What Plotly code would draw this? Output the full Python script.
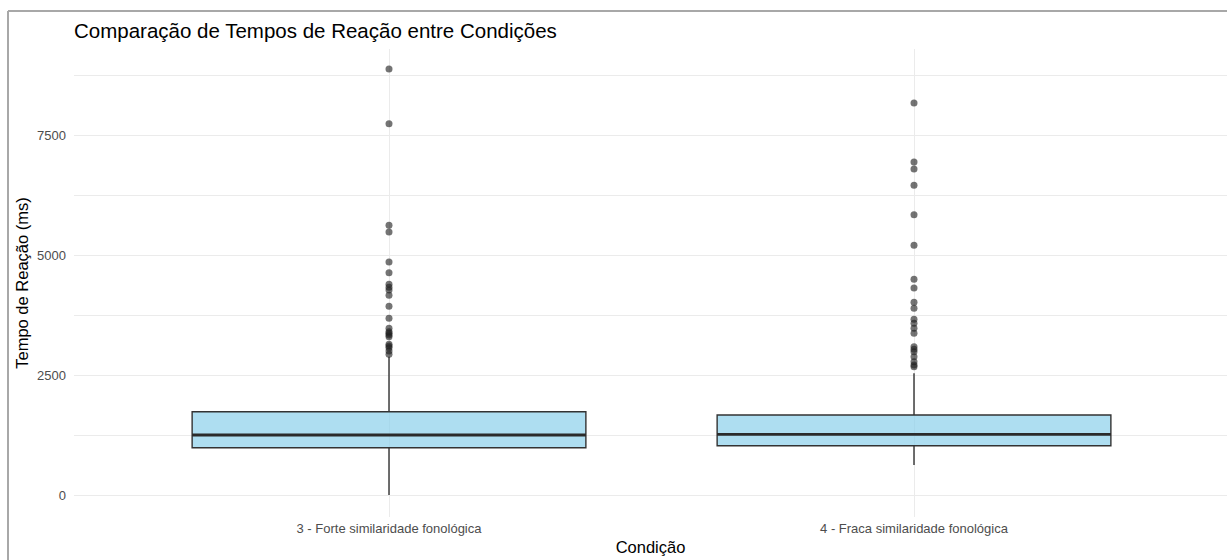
import plotly.graph_objects as go

# Reaction-time summaries per condition
conditions = ["3 - Forte similaridade fonológica", "4 - Fraca similaridade fonológica"]
q1 = [996, 1037]
median = [1260, 1275]
q3 = [1746, 1677]
lower_whisker = [10, 635]
upper_whisker = [2891, 2545]

outliers_forte = [8884, 7745, 5628, 5489, 4864, 4641, 4399, 4337, 4281, 4170, 3941,
                  3691, 3482, 3412, 3378, 3343, 3308, 3149, 3114, 3079, 3010, 2941]
outliers_fraca = [8176, 6947, 6801, 6461, 5849, 5212, 4503, 4322, 4024, 3899,
                  3670, 3587, 3482, 3378, 3100, 3045, 2996, 2891, 2787, 2718, 2683]

W, H = 1227, 560
ML, MR, MT, MB = 74, 0, 49, 43
BOX_W = 0.75

pos = list(range(len(conditions)))

fig = go.Figure()

fig.add_trace(go.Box(
    x=pos, q1=q1, median=median, q3=q3,
    lowerfence=lower_whisker, upperfence=upper_whisker,
    width=BOX_W, boxpoints=False,
    fillcolor="rgba(135,206,235,0.68)",
    line=dict(color="#333333", width=1.4),
    whiskerwidth=0, showlegend=False, hoverinfo="skip",
))

# thicker median bars
mx, my = [], []
for p, m in zip(pos, median):
    mx += [p - BOX_W / 2, p + BOX_W / 2, None]
    my += [m, m, None]
fig.add_trace(go.Scatter(x=mx, y=my, mode="lines",
                         line=dict(color="#2b2b2b", width=2.8),
                         showlegend=False, hoverinfo="skip"))

# outlier points
for p, vals in zip(pos, [outliers_forte, outliers_fraca]):
    fig.add_trace(go.Scatter(
        x=[p] * len(vals), y=vals, mode="markers",
        marker=dict(color="rgba(30,30,30,0.62)", size=7, line=dict(width=0)),
        showlegend=False, hoverinfo="skip",
    ))

pw = W - ML - MR
ph = H - MT - MB


def px_x(x):
    return (x - ML) / pw


def px_y(y):
    return 1 - (y - MT) / ph


# outer frame lines (left and top)
frame = dict(color="#a8a8a8", width=2)
fig.add_shape(type="line", xref="paper", yref="paper",
              x0=px_x(8), x1=px_x(8), y0=px_y(11), y1=px_y(H + 5), line=frame)
fig.add_shape(type="line", xref="paper", yref="paper",
              x0=px_x(8), x1=px_x(W + 5), y0=px_y(11), y1=px_y(11), line=frame)

grid = "#ebebeb"
tick_col = "#4d4d4d"
fig.update_layout(
    template="none",
    width=W, height=H,
    margin=dict(l=ML, r=MR, t=MT, b=MB),
    paper_bgcolor="white", plot_bgcolor="white",
    font=dict(family="Liberation Sans, Arial, sans-serif", color="#000000"),
    title=dict(text="Comparação de Tempos de Reação entre Condições",
               x=ML / W, xanchor="left",
               y=1 - 31 / H, yanchor="middle",
               font=dict(size=20.5, color="#000000")),
    xaxis=dict(
        range=[-0.6, -0.6 + pw / 525],
        tickvals=pos, ticktext=conditions,
        showgrid=True, gridcolor=grid, gridwidth=1.2,
        zeroline=False, showline=False, ticks="",
        tickfont=dict(size=13, color=tick_col),
        ticklabelstandoff=2,
        title=dict(text="Condição", font=dict(size=16.5, color="#000000"), standoff=6),
    ),
    yaxis=dict(
        range=[-448, 9301],
        tickvals=[0, 2500, 5000, 7500],
        showgrid=True, gridcolor=grid, gridwidth=1.2,
        minor=dict(dtick=1250, tick0=0, showgrid=True, gridcolor=grid, gridwidth=0.7),
        zeroline=False, showline=False, ticks="",
        tickfont=dict(size=13, color=tick_col),
        ticklabelstandoff=7,
        title=dict(text="Tempo de Reação (ms)", font=dict(size=16.5, color="#000000"), standoff=4),
    ),
)

fig.write_html("out.html")
